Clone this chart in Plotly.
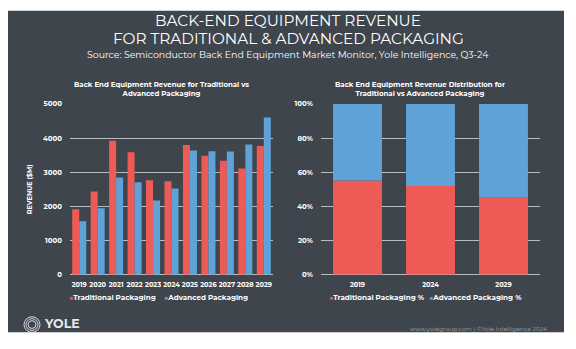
import plotly.graph_objects as go

years = ["2019", "2020", "2021", "2022", "2023", "2024", "2025", "2026", "2027", "2028", "2029"]
traditional = [1915, 2435, 3925, 3585, 2770, 2740, 3795, 3480, 3340, 3110, 3765]
advanced = [1565, 1945, 2845, 2705, 2175, 2525, 3640, 3615, 3605, 3815, 4600]

share_years = ["2019", "2024", "2029"]
traditional_pct = [55.2, 52.0, 45.1]
advanced_pct = [44.8, 48.0, 54.9]

RED = "#ee5b56"
BLUE = "#5fa2d8"
BG = "#3e454c"
GRID = "#b9bcbf"
FONT = "Montserrat, Lato, 'Open Sans', sans-serif"

W, H = 576, 349


def px(x):
    return x / W


def py(y):
    return 1 - y / H


fig = go.Figure()

fig.add_trace(go.Bar(x=years, y=traditional, name="Traditional Packaging",
                     marker=dict(color=RED, line=dict(width=0)), xaxis="x", yaxis="y",
                     showlegend=False, width=0.38, offset=-0.38))
fig.add_trace(go.Bar(x=years, y=advanced, name="Advanced Packaging",
                     marker=dict(color=BLUE, line=dict(width=0)), xaxis="x", yaxis="y",
                     showlegend=False, width=0.38, offset=0.0))

fig.add_trace(go.Bar(x=share_years, y=traditional_pct, name="Traditional Packaging %",
                     marker=dict(color=RED, line=dict(width=0)), xaxis="x2", yaxis="y2",
                     showlegend=False, width=0.67))
fig.add_trace(go.Bar(x=share_years, y=advanced_pct, name="Advanced Packaging %",
                     marker=dict(color=BLUE, line=dict(width=0)), xaxis="x2", yaxis="y2",
                     showlegend=False, width=0.67, base=traditional_pct))

xtickfont = dict(family=FONT, size=6.6, color="white", weight="bold")
ytickfont = dict(family=FONT, size=7, color="white", weight="bold")

fig.update_layout(
    width=W, height=H,
    margin=dict(l=0, r=0, t=0, b=0),
    paper_bgcolor="white",
    plot_bgcolor="rgba(0,0,0,0)",
    barmode="overlay",
    xaxis=dict(domain=[px(70), px(273)], anchor="y", tickfont=xtickfont, showgrid=False,
               showline=False, ticks="", ticklabelstandoff=5, tickangle=0, fixedrange=True),
    yaxis=dict(domain=[py(277), py(101.5)], anchor="x", range=[0, 5000], dtick=1000,
               tickfont=ytickfont, gridcolor=GRID, gridwidth=1, zeroline=True,
               zerolinecolor=GRID, zerolinewidth=1, ticks="", ticklabelstandoff=7,
               title=dict(text="REVENUE ($M)", font=dict(family=FONT, size=6.5, color="white", weight="bold"),
                          standoff=9)),
    xaxis2=dict(domain=[px(321), px(540)], anchor="y2", tickfont=xtickfont, showgrid=False,
                showline=False, ticks="", ticklabelstandoff=5, tickangle=0),
    yaxis2=dict(domain=[py(277), py(101.5)], anchor="x2", range=[0, 100], dtick=20,
                ticksuffix="%", tickfont=ytickfont, gridcolor=GRID, gridwidth=1, zeroline=True,
                zerolinecolor=GRID, zerolinewidth=1, ticks="", ticklabelstandoff=7),
    font=dict(family=FONT, color="white"),
)

shapes = [
    dict(type="rect", xref="paper", yref="paper", x0=px(8), x1=px(564), y0=py(336), y1=py(6),
         fillcolor=BG, line=dict(width=0), layer="below"),
]
for r in [8, 6, 4]:
    shapes.append(dict(type="circle", xref="paper", yref="paper",
                       x0=px(32 - r), x1=px(32 + r), y0=py(328 + r), y1=py(328 - r),
                       line=dict(color="#d8dadc", width=1)))
fig.update_layout(shapes=shapes)

ann = []
ann.append(dict(text="BACK-END EQUIPMENT REVENUE",
                x=px(288), y=py(16.2), xref="paper", yref="paper", xanchor="center", yanchor="middle",
                showarrow=False, font=dict(family=FONT, size=15.3, color="white")))
ann.append(dict(text="FOR TRADITIONAL &amp; ADVANCED PACKAGING",
                x=px(288), y=py(34.8), xref="paper", yref="paper", xanchor="center", yanchor="middle",
                showarrow=False, font=dict(family=FONT, size=15.3, color="white")))
ann.append(dict(text="Source: Semiconductor Back End Equipment Market Monitor, Yole Intelligence, Q3-24",
                x=px(288), y=py(50.5), xref="paper", yref="paper", xanchor="center", yanchor="middle",
                showarrow=False, font=dict(family=FONT, size=9.4, color="white")))
ann.append(dict(text="Back End Equipment Revenue for Traditional vs<br>Advanced Packaging",
                x=px(161), y=py(86), xref="paper", yref="paper", xanchor="center", yanchor="middle",
                showarrow=False, font=dict(family=FONT, size=7, color="white", weight="bold")))
ann.append(dict(text="Back End Equipment Revenue Distribution for<br>Traditional vs Advanced Packaging",
                x=px(420), y=py(86), xref="paper", yref="paper", xanchor="center", yanchor="middle",
                showarrow=False, font=dict(family=FONT, size=7, color="white", weight="bold")))

legfont = dict(family=FONT, size=7.2, color="white", weight="bold")
for txt, col, x in [("Traditional Packaging", RED, 67), ("Advanced Packaging", BLUE, 162),
                    ("Traditional Packaging %", RED, 327), ("Advanced Packaging %", BLUE, 427)]:
    ann.append(dict(text=f"<span style='color:{col};font-size:7px'>■</span>{txt}",
                    x=px(x), y=py(300), xref="paper", yref="paper", xanchor="left", yanchor="middle",
                    showarrow=False, font=legfont))

ann.append(dict(text="www.yolegroup.com | ©Yole Intelligence 2024",
                x=px(549), y=py(333), xref="paper", yref="paper", xanchor="right", yanchor="middle",
                showarrow=False, font=dict(family=FONT, size=6, color="#a3a8ad")))
ann.append(dict(text="YOLE", x=px(42), y=py(327), xref="paper", yref="paper", xanchor="left",
                yanchor="middle", showarrow=False,
                font=dict(family=FONT, size=12.5, color="#e6e7e8", weight="bold")))
fig.update_layout(annotations=ann)

fig.write_html("out.html")
